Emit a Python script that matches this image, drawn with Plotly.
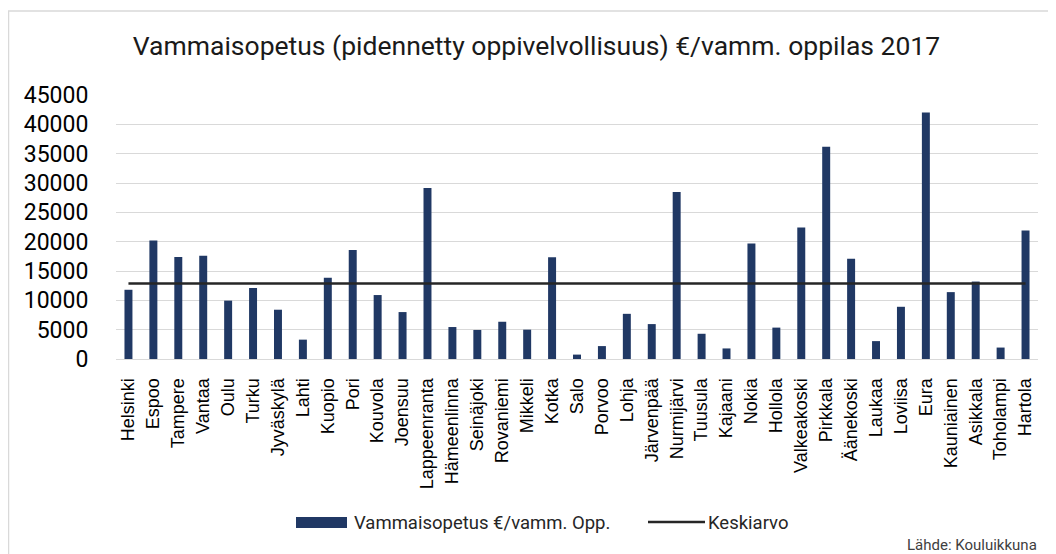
import plotly.graph_objects as go

kunnat = ["Helsinki", "Espoo", "Tampere", "Vantaa", "Oulu", "Turku", "Jyväskylä", "Lahti",
          "Kuopio", "Pori", "Kouvola", "Joensuu", "Lappeenranta", "Hämeenlinna", "Seinäjoki",
          "Rovaniemi", "Mikkeli", "Kotka", "Salo", "Porvoo", "Lohja", "Järvenpää", "Nurmijärvi",
          "Tuusula", "Kajaani", "Nokia", "Hollola", "Valkeakoski", "Pirkkala", "Äänekoski",
          "Laukaa", "Loviisa", "Eura", "Kauniainen", "Asikkala", "Toholampi", "Hartola"]
euroa_per_oppilas = [11800, 20200, 17400, 17600, 9950, 12100, 8400, 3300,
                     13850, 18600, 10900, 8000, 29150, 5450, 4950,
                     6350, 5000, 17350, 750, 2200, 7700, 5950, 28450,
                     4300, 1800, 19700, 5350, 22400, 36200, 17100,
                     3050, 8900, 42000, 11400, 13200, 1950, 21900]
keskiarvo = 12850
keskiarvo_sarja = [keskiarvo] * len(kunnat)
y_ticks = [0, 5000, 10000, 15000, 20000, 25000, 30000, 35000, 40000, 45000]

BAR = "#203864"
LINE = "#262626"
GRID = "#d9d9d9"

# the page body adds an 8px margin; the figure is sized/positioned to compensate
OFF = 8
W, H = 1056 - OFF, 554 - OFF
L, R, T, B = 116 - OFF, 1038 - OFF, 95 - OFF, 359 - OFF


def px(x):
    return (x - OFF - L) / (R - L)


def py(y):
    return (B - (y - OFF)) / (B - T)


fig = go.Figure()
fig.add_trace(go.Bar(x=kunnat, y=euroa_per_oppilas, name="Vammaisopetus €/vamm. Opp.",
                     marker=dict(color=BAR, line=dict(width=0)), showlegend=False))
fig.add_trace(go.Scatter(x=kunnat, y=keskiarvo_sarja, name="Keskiarvo", mode="lines",
                         line=dict(color=LINE, width=2.5), showlegend=False))

shapes = [
    dict(type="rect", xref="paper", yref="paper", x0=px(8.5), x1=px(1070), y0=py(570), y1=py(11),
         line=dict(color=GRID, width=1.5), fillcolor="rgba(0,0,0,0)", layer="below"),
    dict(type="rect", xref="paper", yref="paper", x0=px(296), x1=px(347), y0=py(528), y1=py(517),
         line=dict(width=0), fillcolor=BAR),
    dict(type="line", xref="paper", yref="paper", x0=px(648), x1=px(705), y0=py(522), y1=py(522),
         line=dict(color=LINE, width=2.5)),
]
annotations = [
    dict(text="Vammaisopetus €/vamm. Opp.", xref="paper", yref="paper", x=px(352), y=py(522.5),
         xanchor="left", yanchor="middle", showarrow=False,
         font=dict(family="Roboto", size=18.5, color="#262626")),
    dict(text="Keskiarvo", xref="paper", yref="paper", x=px(706), y=py(522.5),
         xanchor="left", yanchor="middle", showarrow=False,
         font=dict(family="Roboto", size=18.5, color="#262626")),
    dict(text="Lähde: Kouluikkuna", xref="paper", yref="paper", x=px(1039), y=py(545),
         xanchor="right", yanchor="middle", showarrow=False,
         font=dict(family="Roboto", size=15, color="#404040")),
]

fig.update_layout(
    width=W, height=H,
    margin=dict(l=L, r=W - R, t=T, b=H - B, pad=0),
    paper_bgcolor="white", plot_bgcolor="white",
    bargap=0.68,
    title=dict(text="Vammaisopetus (pidennetty oppivelvollisuus) €/vamm. oppilas 2017",
               x=(536.5 - OFF) / W, xanchor="center", xref="container",
               y=1 - (46 - OFF) / H, yanchor="middle", yref="container",
               font=dict(family="Roboto", size=26.5, color="#1a1a1a")),
    shapes=shapes, annotations=annotations,
    showlegend=False,
)
fig.update_xaxes(type="category", tickangle=-90, showgrid=False, showline=False,
                 ticks="outside", ticklen=11, tickcolor="rgba(0,0,0,0)",
                 tickfont=dict(family="Liberation Sans, Arial", size=18, color="#000000"))
fig.update_yaxes(range=[0, 45000], tickvals=y_ticks, ticktext=[str(v) for v in y_ticks],
                 showgrid=True, gridcolor=GRID, gridwidth=1.3,
                 zeroline=True, zerolinecolor=GRID, zerolinewidth=1.3,
                 ticks="outside", ticklen=22, tickcolor="rgba(0,0,0,0)",
                 tickfont=dict(family="Roboto", size=23, color="#000000"))

fig.write_html("out.html")
